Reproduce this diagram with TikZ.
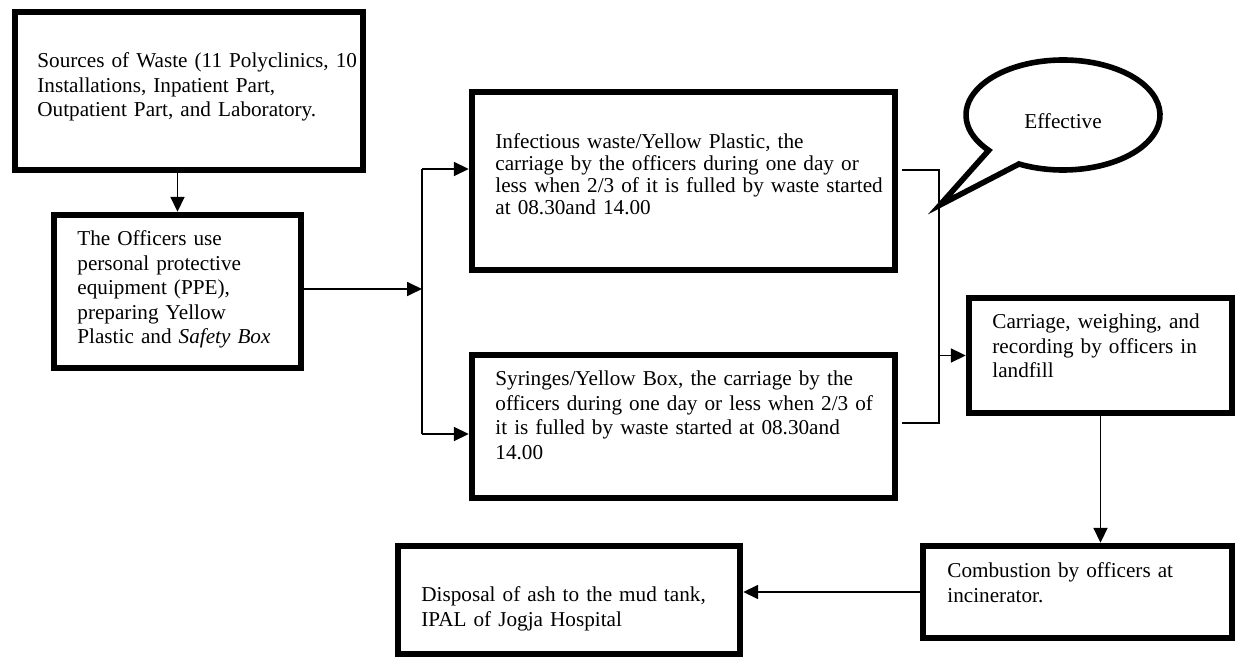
\documentclass[tikz,border=0pt]{standalone}
\usepackage{fontspec}
\setmainfont{Liberation Serif}
\usetikzlibrary{arrows.meta}

\begin{document}
\begin{tikzpicture}[x=0.5pt, y=-0.5pt,
    box/.style={draw, line width=3.2pt, inner sep=0pt},
    txt/.style={anchor=base west, inner sep=0pt, align=left, text width=220pt,
        font=\fontsize{10.6pt}{12.25pt}\selectfont},
    line/.style={line width=0.9pt},
    arr/.style={line width=0.9pt, -{Triangle[length=7.5pt, width=7pt]}},
    callout/.style={line width=2.8pt, line join=miter}]

    \useasboundingbox (0,0) rectangle (1243,657);

    % boxes
    \node[box, minimum width=174pt, minimum height=79pt] (src) at (189,91) {};
    \node[box, minimum width=123.5pt, minimum height=76.5pt] (off) at (177.5,291.5) {};
    \node[box, minimum width=211.5pt, minimum height=89pt] (inf) at (683.5,181) {};
    \node[box, minimum width=211.5pt, minimum height=71.5pt] (syr) at (683.5,426.5) {};
    \node[box, minimum width=131.5pt, minimum height=57.5pt] (cwr) at (1100.5,355.5) {};
    \node[box, minimum width=154.5pt, minimum height=46pt] (cmb) at (1077.5,592) {};
    \node[box, minimum width=171pt, minimum height=54pt] (dsp) at (569,600) {};

    % texts
    \node[txt] (srcT) at (37,68) {Sources of Waste (11 Polyclinics, 10\\Installations, Inpatient Part,\\Outpatient Part, and Laboratory.};
    \node[txt] (offT) at (77,246) {The Officers use\\personal protective\\equipment (PPE),\\preparing Yellow\\Plastic and \textit{Safety Box}};
    \node[txt, font=\fontsize{10.6pt}{10.85pt}\selectfont] (infT) at (495,149) {Infectious waste/Yellow Plastic, the\\carriage by the officers during one day or\\less when 2/3 of it is fulled by waste started\\at 08.30and 14.00};
    \node[txt] (syrT) at (495,386) {Syringes/Yellow Box, the carriage by the\\officers during one day or less when 2/3 of\\it is fulled by waste started at 08.30and\\14.00};
    \node[txt] (cwrT) at (992,329) {Carriage, weighing, and\\recording by officers in\\landfill};
    \node[txt] (cmbT) at (947,578) {Combustion by officers at\\incinerator.};
    \node[txt] (dspT) at (421,602) {Disposal of ash to the mud tank,\\IPAL of Jogja Hospital};

    % callout
    \coordinate (tip) at (940,205);
    \draw[callout] (1063,115) ++(117:97 and 55) arc[start angle=117, end angle=-220, x radius=97, y radius=55] -- (tip) -- cycle;
    \node[anchor=base, inner sep=0pt, font=\fontsize{10.6pt}{12.25pt}\selectfont] (eff) at (1063,129) {Effective};

    % connectors
    \coordinate (jM) at (422,289);
    \coordinate (jT) at (422,169);
    \coordinate (jB) at (422,434);
    \coordinate (iOut) at (902,170);
    \coordinate (rT) at (939,170);
    \coordinate (rB) at (939,423);
    \coordinate (sOut) at (902,423);

    \draw[arr] (src.south -| off.north) -- (off.north);
    \draw[arr] (off.east |- jM) -- (jM);
    \draw[line] (jT) -- (jB);
    \draw[arr] (jT) -- (jT -| inf.west);
    \draw[arr] (jB) -- (jB -| syr.west);
    \draw[line] (iOut) -- (rT) -- (rB) -- (sOut);
    \draw[arr] (rT |- cwr.west) -- (cwr.west);
    \draw[arr] (cwr.south) -- (cwr.south |- cmb.north);
    \draw[arr] (cmb.west) -- (cmb.west -| dsp.east);

\end{tikzpicture}
\end{document}
